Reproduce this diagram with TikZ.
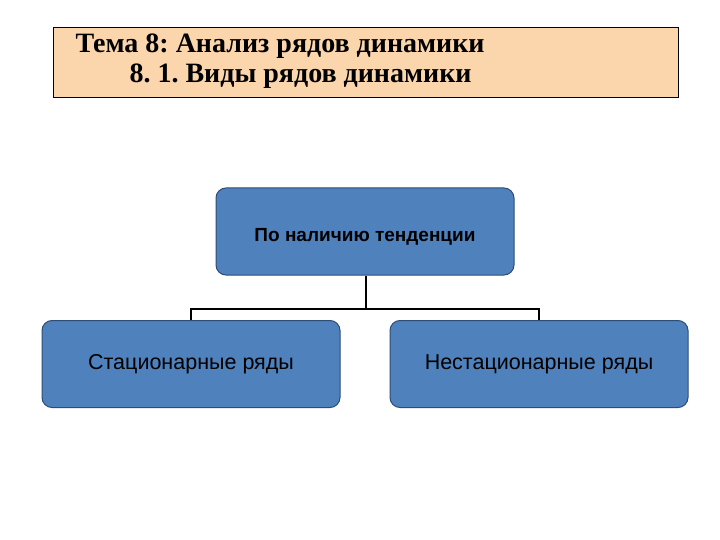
\documentclass[tikz,border=0pt]{standalone}
\usepackage{fontspec}
\setmainfont{Liberation Serif}
\newfontfamily\boxfont{Liberation Sans}
\definecolor{peach}{HTML}{FBD5AC}
\definecolor{boxblue}{HTML}{4F81BD}
\definecolor{boxedge}{HTML}{2C4D75}
\begin{document}
\begin{tikzpicture}[x=1pt,y=-1pt,
  bluebox/.style={draw=boxedge,line width=1pt,fill=boxblue,rounded corners=10pt,minimum width=298pt,minimum height=87pt,font=\boxfont},
  link/.style={draw=black,line width=1.2pt}]
\useasboundingbox (0,0) rectangle (720,540);
\node[draw=black,fill=peach,line width=0.6pt,minimum width=625pt,minimum height=70pt,anchor=north west] (hdr) at (53,27) {};
\frenchspacing
\node[anchor=west,font=\bfseries\fontsize{28}{32}\selectfont] (t1) at (72,46) {Тема 8: Анализ рядов динамики};
\node[anchor=west,font=\bfseries\fontsize{28}{32}\selectfont] (t2) at (126,76) {8. 1. Виды рядов динамики};
\node[bluebox] (top) at (365,231.5) {};
\node[font=\boxfont\bfseries\fontsize{19}{22}\selectfont] (toplbl) at (365,237) {По наличию тенденции};
\node[bluebox,font=\boxfont\fontsize{21.5}{25}\selectfont] (l) at (191,364) {Стационарные ряды};
\node[bluebox,font=\boxfont\fontsize{21.5}{25}\selectfont] (r) at (539,364) {Нестационарные ряды};
\coordinate (m) at (366,309);
\draw[link] (top.south -| m) -- (m);
\draw[link] (l.north) -- (l.north |- m) -- (r.north |- m) -- (r.north);
\end{tikzpicture}
\end{document}
